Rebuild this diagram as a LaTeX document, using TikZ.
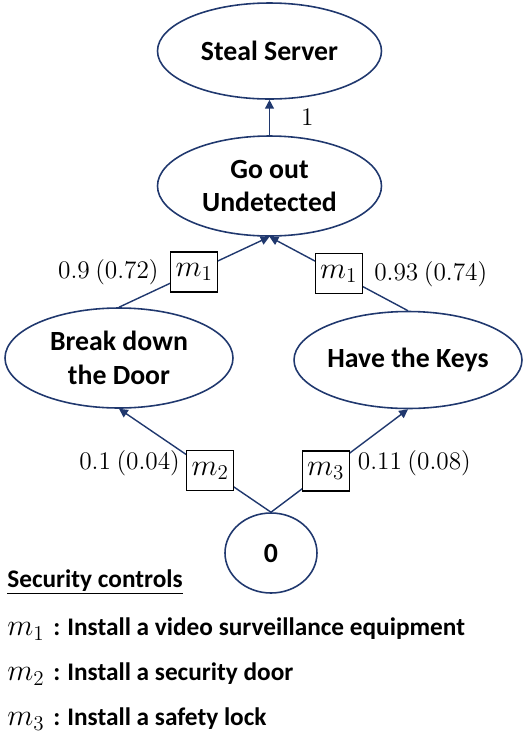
\documentclass[tikz,border=0pt]{standalone}
\usepackage{fontspec}
\setmainfont{Carlito}
\usetikzlibrary{shapes.geometric,arrows.meta,positioning}
\definecolor{navy}{RGB}{32,56,110}
\newcommand{\msym}[1]{{\fontsize{17}{19}\selectfont$m_{#1}$}}
\begin{document}
\begin{tikzpicture}[
        goal/.style={ellipse,draw=navy,line width=0.9pt,inner sep=0pt,align=center,
            font=\bfseries\fontsize{15.8}{19}\selectfont},
        ctrl/.style={draw=black,fill=white,line width=0.7pt,minimum width=0.94cm,
            minimum height=0.8cm,inner sep=0pt,font=\fontsize{18}{20}\selectfont},
        edge/.style={draw=navy,line width=0.8pt,-{Triangle[length=5pt,width=5pt]}},
        prob/.style={font=\fontsize{14}{16}\selectfont},
        legend/.style={anchor=west,inner sep=0pt,font=\bfseries\fontsize{14.4}{16}\selectfont}]
        \useasboundingbox (0,0) rectangle (10.52,-14.68);

        \node[goal,minimum width=4.48cm,minimum height=1.92cm] (srv) at (5.39,-1.02) {Steal Server};
        \node[goal,minimum width=4.48cm,minimum height=2cm] (gou) at (5.39,-3.72) {Go out\\Undetected};
        \node[goal,minimum width=4.56cm,minimum height=2cm] (brk) at (2.38,-7.16) {Break down\\the Door};
        \node[goal,minimum width=4.54cm,minimum height=1.94cm] (keys) at (8.16,-7.2) {Have the Keys};
        \node[goal,minimum width=1.84cm,minimum height=1.6cm] (zero) at (5.42,-11.06) {0};

        \draw[edge] (gou) -- node[prob,right=0.5cm] {$1$} (srv);
        \draw[edge] (brk.north) -- node[ctrl] (c1a) {$m_1$} (gou.south);
        \draw[edge] (keys.north) -- node[ctrl] (c1b) {$m_1$} (gou.south);
        \draw[edge] (zero.north) -- node[ctrl,pos=0.4] (c2) {$m_2$} (brk.south);
        \draw[edge] (zero.north) -- node[ctrl,pos=0.4] (c3) {$m_3$} (keys.south);

        \node[prob,left=3pt of c1a] {$0.9\ (0.72)$};
        \node[prob,right=3pt of c1b] {$0.93\ (0.74)$};
        \node[prob,left=0pt of c2,yshift=0.16cm] {$0.1\ (0.04)$};
        \node[prob,right=1pt of c3,yshift=0.16cm] {$0.11\ (0.08)$};

        % legend
        \node[legend] (hdr) at (0.14,-11.64) {\underline{Security controls}};
        \node[legend] (l1) at (0.14,-12.58) {\msym{1}\hspace{5pt}:\hspace{4pt}Install a video surveillance equipment};
        \node[legend] (l2) at (0.14,-13.48) {\msym{2}\hspace{5pt}:\hspace{4pt}Install a security door};
        \node[legend] (l3) at (0.14,-14.38) {\msym{3}\hspace{5pt}:\hspace{4pt}Install a safety lock};
    \end{tikzpicture}
\end{document}
